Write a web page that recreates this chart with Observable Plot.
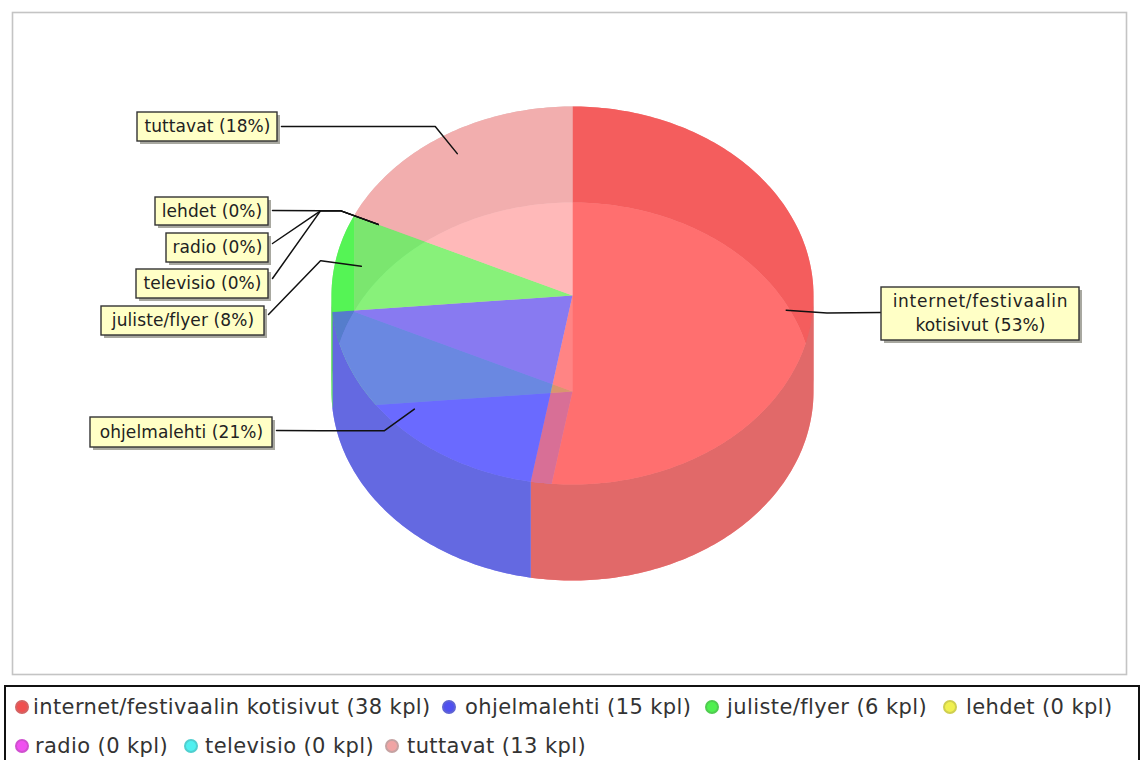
<!DOCTYPE html>
<html>
<head>
<meta charset="utf-8">
<script src="https://cdn.jsdelivr.net/npm/d3@7"></script>
<script src="https://cdn.jsdelivr.net/npm/@observablehq/plot@0.6"></script>
<style>
  html, body { margin: 0; padding: 0; background: #fff; overflow: hidden; }
  #chart { height: 682px; }
  #legend {
    position: absolute; left: 4px; top: 685px; width: 1132px; height: 90px;
    border: 2px solid #111; background: #fff; color: #333;
    font: 21px "DejaVu Sans", sans-serif; letter-spacing: 0.4px;
  }
  .entry { position: absolute; white-space: nowrap; line-height: 24px; }
  .swatch { position: absolute; width: 14px; height: 14px; border-radius: 50%; box-sizing: border-box; filter: brightness(.94); }
</style>
</head>
<body>
<div id="chart"></div>
<div id="legend"></div>
<script>
// Survey answers: where people heard about the festival
const categories = ["internet/festivaalin kotisivut", "ohjelmalehti", "juliste/flyer", "lehdet", "radio", "televisio", "tuttavat"];
const counts = [38, 15, 6, 0, 0, 0, 13];
const paints = ["#FF5555", "#5555FF", "#55FF55", "#FFFF55", "#FF55FF", "#55FFFF", "#FFAFAF"];
const sidePaints = ["#E16969", "#6469E1", "#55D955", "#DCDC55", "#DC55DC", "#55DCDC", "#D2ACAC"];
const topAlphas = [0.62, 0.7, 0.7, 0.7, 0.7, 0.7, 0.7];
const calloutText = ["internet/festivaalin\nkotisivut", "ohjelmalehti", "juliste/flyer", "lehdet", "radio", "televisio", "tuttavat"];

// Callout box placement: [left, right, top, bottom, leader y]
const calloutBoxes = [
  [881, 1079, 287, 340, 312],
  [90, 272, 417, 447, 430],
  [101, 264, 306, 335, 314],
  [155, 268, 197, 225, 210],
  [166, 268, 233, 262, 243],
  [136, 268, 269, 298, 278],
  [137, 277, 112, 141, 126]
];

// Legend placement: [swatch x, text x, row]
const legendPlaces = [[22, 33, 0], [449, 465, 0], [712, 727, 0], [950, 966, 0], [22, 35, 1], [191, 205, 1], [392, 407, 1]];
const legendRows = [707, 746];

// Pie geometry
const width = 1140, height = 682;
const cx = 572, cy = 295, rx = 241, ry = 189, depth = 96;
const baseAlpha = 0.6;
const stemX = 320;

const total = d3.sum(counts);
const rim = (deg, k = 1, drop = 0) => {
  const t = deg * Math.PI / 180;
  return {x: cx + k * rx * Math.sin(t), y: cy + drop - k * ry * Math.cos(t)};
};
const arc = (a0, a1, drop = 0) => {
  const n = Math.max(1, Math.ceil(Math.abs(a1 - a0)));
  return d3.range(n + 1).map(i => rim(a0 + (a1 - a0) * i / n, 1, drop));
};

// Slices run clockwise from twelve o'clock
let running = 0;
const slices = counts.map((v, i) => {
  const start = running / total * 360;
  running += v;
  const end = running / total * 360;
  return {name: categories[i], value: v, start, end, mid: (start + end) / 2, paint: paints[i], side: sidePaints[i], topAlpha: topAlphas[i]};
});
const drawn = slices.filter(s => s.value > 0);

const face = (s, drop) => [{x: cx, y: cy + drop}, ...arc(s.start, s.end, drop)];

// The curved side is split at the widest points of the ellipse, so each part is a simple band
function wallParts(s) {
  const cuts = [s.start, ...[90, 270].filter(c => c > s.start && c < s.end), s.end];
  return d3.pairs(cuts).map(([a, b]) => ({
    back: (a + b) / 2 < 90 || (a + b) / 2 > 270,
    pts: [...arc(a, b, 0), ...arc(b, a, depth)],
    side: s.side
  }));
}
const walls = drawn.flatMap(wallParts);

const fillMark = (pts, fill, fillOpacity) => Plot.line(pts, {x: "x", y: "y", fill, fillOpacity, stroke: "none"});

// One callout per category: the percent in its text comes from the counts
const callouts = slices.map((s, i) => {
  const [x1, x2, y1, y2, lineY] = calloutBoxes[i];
  return {x1, x2, y1, y2, lineY, s, text: `${calloutText[i]} (${Math.round(s.value / total * 100)}%)`};
});

const leader = c => {
  const inner = rim(c.s.mid, 0.89), elbow = rim(c.s.mid, 1.06);
  const right = c.x1 > cx;
  const pts = [inner, elbow];
  if (!right) pts.push({x: stemX, y: elbow.y});
  pts.push({x: right ? c.x1 : c.x2 + 4, y: c.lineY});
  return pts;
};

const chart = Plot.plot({
  width, height,
  margin: 0,
  x: {domain: [0, width], range: [0, width], axis: null},
  y: {domain: [0, height], range: [0, height], axis: null},
  style: {background: "#fff", fontFamily: "'DejaVu Sans', sans-serif", letterSpacing: "0.1px"},
  marks: [
    // Plot area outline
    Plot.rect([{x1: 12.5, x2: 1126.5, y1: 12.5, y2: 674.5}], {x1: "x1", x2: "x2", y1: "y1", y2: "y2", fill: "#fff", stroke: "#c4c4c4", strokeWidth: 1.6}),
    // Bottom face, back walls, front walls, then the see-through top face
    ...drawn.map(s => fillMark(face(s, depth), s.paint, baseAlpha)),
    ...walls.filter(w => w.back).map(w => fillMark(w.pts, w.side, 1)),
    ...walls.filter(w => !w.back).map(w => fillMark(w.pts, w.side, 1)),
    ...drawn.map(s => fillMark(face(s, 0), s.paint, s.topAlpha)),
    // Leader lines
    ...callouts.map(c => Plot.line(leader(c), {x: "x", y: "y", stroke: "#111", strokeWidth: 1.5})),
    // Callout shadows, boxes and texts
    Plot.rect(callouts, {x1: d => d.x1 + 3, x2: d => d.x2 + 3, y1: d => d.y1 + 3, y2: d => d.y2 + 3, fill: "#a8a8a0"}),
    Plot.rect(callouts, {x1: "x1", x2: "x2", y1: "y1", y2: "y2", fill: "#FFFFC6", stroke: "#333", strokeWidth: 1.4}),
    Plot.text(callouts, {
      x: d => (d.x1 + d.x2) / 2, y: d => (d.y1 + d.y2) / 2,
      text: "text", fontSize: 17, fill: "#222", lineHeight: 1.47, textAnchor: "middle", dy: -3
    })
  ]
});
document.getElementById("chart").append(chart);

// The long first line of the wrapped callout is set a little wider
const firstLine = chart.querySelector("tspan");
if (firstLine) firstLine.style.letterSpacing = "0.75px";

// Legend under the plot, with the counts as entries
const legend = document.getElementById("legend");
const boxTop = 687, boxLeft = 6;
categories.forEach((name, i) => {
  const [sx, tx, row] = legendPlaces[i];
  const y = legendRows[row] - boxTop;
  const dot = document.createElement("span");
  dot.className = "swatch";
  dot.style.cssText = `left:${sx - 7 - boxLeft}px;top:${y - 7}px;background:${paints[i]};border:2px solid ${sidePaints[i]}`;
  const label = document.createElement("span");
  label.className = "entry";
  label.style.cssText = `left:${tx - boxLeft}px;top:${y - 12}px`;
  label.textContent = `${name} (${counts[i]} kpl)`;
  legend.append(dot, label);
});
</script>
</body>
</html>
